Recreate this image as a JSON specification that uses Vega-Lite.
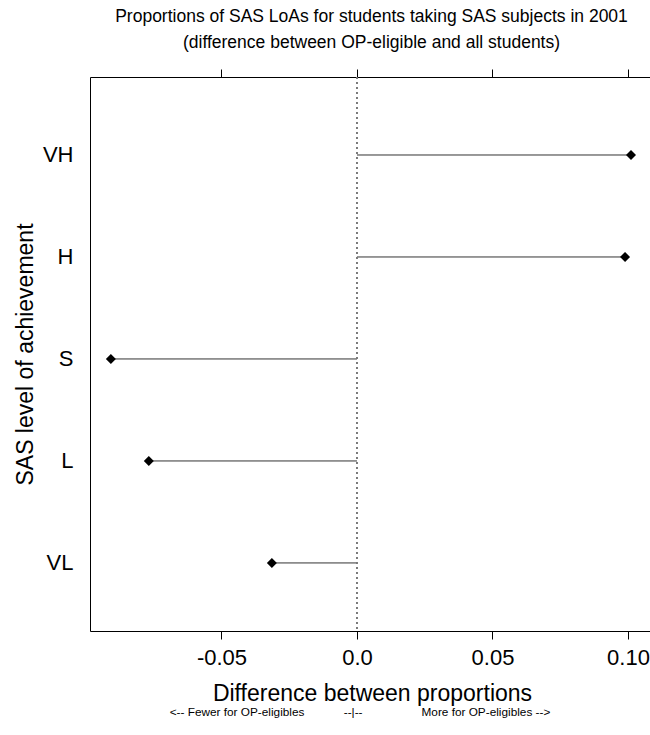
{
  "$schema": "https://vega.github.io/schema/vega-lite/v6.json",
  "width": 570,
  "height": 554,
  "padding": {"left": 14, "top": 7, "right": 0, "bottom": 0},
  "config": {
    "view": {"stroke": "black", "strokeWidth": 1},
    "font": "Liberation Sans",
    "axis": {"labelFont": "Liberation Sans", "titleFont": "Liberation Sans", "titleFontWeight": "normal", "labelColor": "black", "titleColor": "black", "tickColor": "black", "grid": false}
  },
  "title": {
    "text": "<-- Fewer for OP-eligibles\u00a0\u00a0\u00a0\u00a0\u00a0\u00a0\u00a0\u00a0\u00a0\u00a0\u00a0\u00a0--|--\u00a0\u00a0\u00a0\u00a0\u00a0\u00a0\u00a0\u00a0\u00a0\u00a0\u00a0\u00a0\u00a0\u00a0\u00a0\u00a0\u00a0\u00a0More for OP-eligibles -->",
    "orient": "bottom",
    "anchor": "middle",
    "fontSize": 11.8,
    "fontWeight": "normal",
    "font": "Liberation Sans",
    "color": "black",
    "offset": 2,
    "dx": -15
  },
  "data": {
    "values": [
      {"level": "VH", "diff": 0.1011},
      {"level": "H", "diff": 0.0989},
      {"level": "S", "diff": -0.0908},
      {"level": "L", "diff": -0.0768},
      {"level": "VL", "diff": -0.0314}
    ]
  },
  "resolve": {"axis": {"x": "independent"}},
  "layer": [
    {
      "mark": {"type": "rule", "color": "#333333", "strokeWidth": 1},
      "encoding": {
        "y": {
          "field": "level",
          "type": "ordinal",
          "scale": {"type": "point", "domain": ["VH", "H", "S", "L", "VL"], "padding": 0.716, "align": 0.534},
          "axis": {
            "ticks": false,
            "domain": false,
            "labelFontSize": 22,
            "labelPadding": 17,
            "title": "SAS level of achievement",
            "titleFontSize": 23,
            "titlePadding": 5
          }
        },
        "x": {
          "field": "diff",
          "type": "quantitative",
          "scale": {"domain": [-0.0985, 0.1118], "nice": false, "zero": false},
          "axis": {
            "orient": "bottom",
            "values": [-0.05, 0, 0.05, 0.1],
            "labelExpr": "datum.value < -0.01 ? '-0.05' : datum.value < 0.01 ? '0.0' : datum.value < 0.07 ? '0.05' : '0.10'",
            "domain": false,
            "tickSize": 8,
            "labelFontSize": 22,
            "labelPadding": 8,
            "title": "Difference between proportions",
            "titleFontSize": 23,
            "titlePadding": 14,
            "titleX": 282
          }
        },
        "x2": {"datum": 0}
      }
    },
    {
      "mark": {"type": "point", "shape": "diamond", "filled": true, "color": "black", "size": 100, "opacity": 1},
      "encoding": {
        "y": {"field": "level", "type": "ordinal"},
        "x": {
          "field": "diff",
          "type": "quantitative",
          "axis": {
            "orient": "top",
            "values": [-0.05, 0, 0.05, 0.1],
            "labels": false,
            "domain": false,
            "tickSize": 8,
            "title": ["Proportions of SAS LoAs for students taking SAS subjects in 2001", "(difference between OP-eligible and all students)"],
            "titleFontSize": 17.5,
            "titleLineHeight": 26,
            "titlePadding": 17,
            "titleX": 281
          }
        }
      }
    },
    {
      "mark": {"type": "rule", "color": "#777777", "strokeDash": [2, 3], "strokeWidth": 1},
      "encoding": {
        "x": {"datum": 0, "type": "quantitative", "axis": null}
      }
    }
  ]
}
